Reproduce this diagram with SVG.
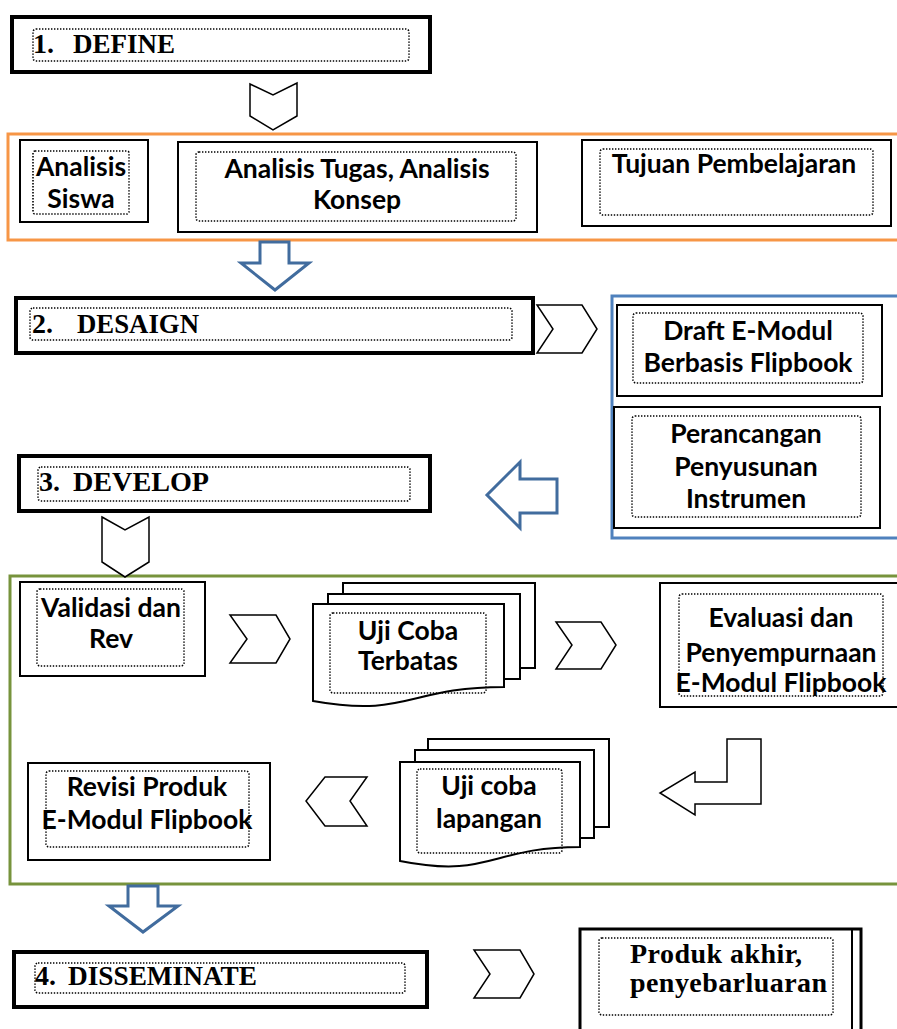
<svg xmlns="http://www.w3.org/2000/svg" width="897" height="1029" viewBox="0 0 897 1029">
<style>
.bg{fill:#fff}
.box{fill:#fff;stroke:#000;stroke-width:2}
.hbox{fill:#fff;stroke:#000;stroke-width:4}
.dot{fill:none;stroke:#000;stroke-width:1.6;stroke-dasharray:1.4 1.6}
.chev{fill:#fff;stroke:#000;stroke-width:1.5;stroke-linejoin:miter}
.barrow{fill:#fff;stroke:#416c9e;stroke-width:3;stroke-linejoin:miter}
.cont{fill:none;stroke-width:3}
.s{font-family:Lato,"Open Sans",sans-serif;font-weight:bold;font-size:26.5px;fill:#000;text-anchor:middle}
.h{font-family:"Liberation Serif","Times New Roman",serif;font-weight:bold;font-size:28px;fill:#000}
</style>
<rect class="bg" x="0" y="0" width="897" height="1029"/>

<g id="containers">
<rect class="cont" x="8" y="134" width="895" height="106" stroke="#f79646"/>
<rect class="cont" x="612" y="296" width="291" height="242" stroke="#4f81bd"/>
<rect class="cont" x="10" y="576" width="893" height="308" stroke="#77933c"/>
</g>

<g id="connectors">
<path class="chev" d="M250,84 L273,95 L297,83 L297,116 L273,130 L250,116 Z"/>
<path class="barrow" d="M260,242 H289 V263 H309 L275,290 L241,263 H260 Z"/>
<path class="chev" d="M537,305 H582 L597,329 L582,353 H537 L553,329 Z"/>
<path class="barrow" d="M557,479 V513 H520 V528 L487,495 L520,462 V479 Z"/>
<path class="chev" d="M102,517 L125,530 L149,517 L149,562 L125,577 L102,562 Z"/>
<path class="chev" d="M230,615 H276 L290,639 L276,663 H230 L247,639 Z"/>
<path class="chev" d="M556,622 H601 L616,645 L601,669 H556 L572,645 Z"/>
<path class="chev" d="M727,739 H761 V804 H695 V815 L660,793 L695,772 V782 H727 Z"/>
<path class="chev" d="M325,777 H367 L350,801 L367,826 H325 L306,801 Z"/>
<path class="barrow" d="M128,886 H158 V906 H178 L143,932 L109,906 H128 Z"/>
<path class="chev" d="M474,950 H520 L534,974 L520,998 H474 L490,974 Z"/>
</g>

<g id="define">
<rect class="hbox" x="12" y="17" width="418" height="55"/>
<rect class="dot" x="33" y="29" width="376" height="32" rx="3"/>
<text class="h" x="33" y="53">1.</text>
<text class="h" x="73" y="53" textLength="102" lengthAdjust="spacingAndGlyphs">DEFINE</text>
</g>

<g id="analisis-siswa">
<rect class="box" x="20" y="140" width="128" height="82"/>
<rect class="dot" x="33" y="151" width="96" height="63" rx="2"/>
<text class="s" x="81" y="176">Analisis</text>
<text class="s" x="81" y="208">Siswa</text>
</g>

<g id="analisis-tugas">
<rect class="box" x="178" y="142" width="359" height="90"/>
<rect class="dot" x="196" y="152" width="320" height="69" rx="3"/>
<text class="s" x="357" y="178">Analisis Tugas, Analisis</text>
<text class="s" x="357" y="209">Konsep</text>
</g>

<g id="tujuan">
<rect class="box" x="582" y="140" width="309" height="86"/>
<rect class="dot" x="600" y="149" width="273" height="66" rx="3"/>
<text class="s" x="734" y="173">Tujuan Pembelajaran</text>
</g>

<g id="desaign">
<rect class="hbox" x="16" y="298" width="517" height="55"/>
<rect class="dot" x="30" y="308" width="482" height="32" rx="3"/>
<text class="h" x="32" y="333">2.</text>
<text class="h" x="77" y="333" textLength="122" lengthAdjust="spacingAndGlyphs">DESAIGN</text>
</g>

<g id="draft">
<rect class="box" x="617" y="305" width="265" height="91"/>
<rect class="dot" x="633" y="313" width="230" height="70" rx="3"/>
<text class="s" x="748" y="340">Draft E-Modul</text>
<text class="s" x="748" y="372">Berbasis Flipbook</text>
</g>

<g id="perancangan">
<rect class="box" x="614" y="407" width="266" height="121"/>
<rect class="dot" x="632" y="416" width="229" height="101" rx="3"/>
<text class="s" x="746" y="443">Perancangan</text>
<text class="s" x="746" y="476">Penyusunan</text>
<text class="s" x="746" y="508">Instrumen</text>
</g>

<g id="develop">
<rect class="hbox" x="19" y="456" width="411" height="55"/>
<rect class="dot" x="38" y="467" width="372" height="34" rx="3"/>
<text class="h" x="39" y="491">3.</text>
<text class="h" x="73" y="491" textLength="136" lengthAdjust="spacingAndGlyphs">DEVELOP</text>
</g>

<g id="validasi">
<rect class="box" x="20" y="582" width="185" height="94"/>
<rect class="dot" x="37" y="589" width="147" height="77" rx="3"/>
<text class="s" x="111" y="617">Validasi dan</text>
<text class="s" x="111" y="648">Rev</text>
</g>

<g id="uji-coba-terbatas">
<rect class="box" x="343" y="583" width="192" height="85"/>
<rect class="box" x="328" y="594" width="192" height="85"/>
<path class="box" d="M313,604 H504 V687 C408,687 408,718 313,701 Z"/>
<rect class="dot" x="330" y="613" width="156" height="80" rx="3"/>
<text class="s" x="408" y="640">Uji Coba</text>
<text class="s" x="408" y="670">Terbatas</text>
</g>

<g id="evaluasi">
<rect class="box" x="660" y="583" width="245" height="124"/>
<rect class="dot" x="679" y="594" width="204" height="102" rx="3"/>
<text class="s" x="781" y="627">Evaluasi dan</text>
<text class="s" x="781" y="662">Penyempurnaan</text>
<text class="s" x="781" y="692">E-Modul Flipbook</text>
</g>

<g id="uji-coba-lapangan">
<rect class="box" x="428" y="739" width="181" height="88"/>
<rect class="box" x="415" y="750" width="179" height="88"/>
<path class="box" d="M400,762 H580 V847 C490,847 490,879 400,861 Z"/>
<rect class="dot" x="417" y="769" width="145" height="84" rx="3"/>
<text class="s" x="489" y="795">Uji coba</text>
<text class="s" x="489" y="828">lapangan</text>
</g>

<g id="revisi">
<rect class="box" x="28" y="763" width="242" height="97"/>
<rect class="dot" x="46" y="771" width="203" height="76" rx="3"/>
<text class="s" x="147" y="796">Revisi Produk</text>
<text class="s" x="147" y="829">E-Modul Flipbook</text>
</g>

<g id="disseminate">
<rect class="hbox" x="14" y="952" width="413" height="55"/>
<rect class="dot" x="35" y="963" width="370" height="30" rx="3"/>
<text class="h" x="35" y="985">4.</text>
<text class="h" x="68" y="985" textLength="189" lengthAdjust="spacingAndGlyphs">DISSEMINATE</text>
</g>

<g id="produk-akhir">
<rect class="hbox" x="580" y="929" width="281" height="105" style="stroke-width:3"/>
<line x1="852" y1="930" x2="852" y2="1030" stroke="#000" stroke-width="2"/>
<rect class="dot" x="599" y="938" width="234" height="77" rx="3"/>
<text class="h" x="630" y="963" style="font-size:28px" textLength="172" lengthAdjust="spacing">Produk akhir,</text>
<text class="h" x="630" y="992" style="font-size:28px" textLength="197" lengthAdjust="spacing">penyebarluaran</text>
</g>
</svg>
